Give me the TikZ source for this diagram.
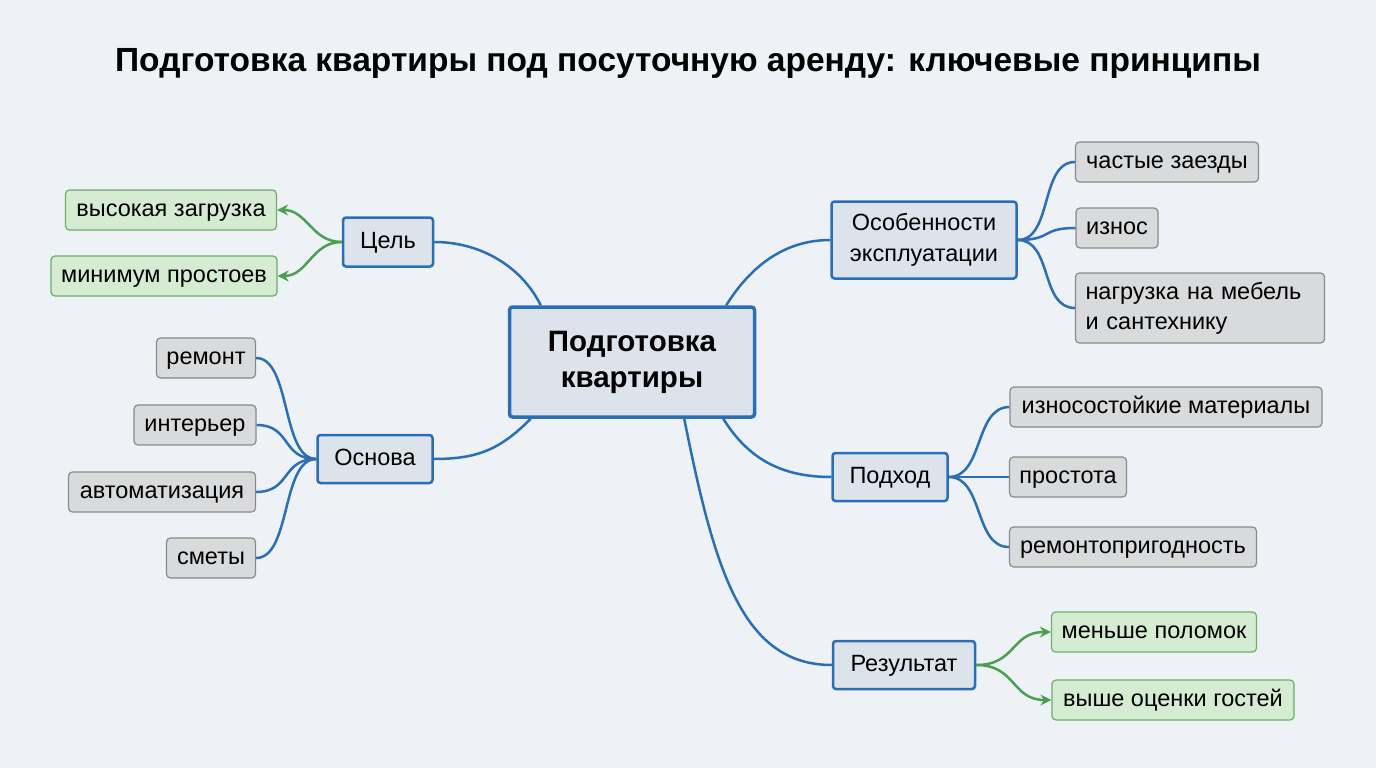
\documentclass[tikz,border=0pt]{standalone}
\usepackage{fontspec}
\setmainfont{Liberation Sans}
\usetikzlibrary{arrows.meta,calc}
\definecolor{bg}{HTML}{EEF2F6}
\definecolor{bl}{HTML}{2A6FB5}
\definecolor{mfill}{HTML}{DCE3EB}
\definecolor{gfill}{HTML}{D9DADC}
\definecolor{gline}{HTML}{8A8A8A}
\definecolor{grfill}{HTML}{D5ECD3}
\definecolor{grline}{HTML}{6AAE6A}
\definecolor{grarr}{HTML}{4AA050}
\begin{document}
\begin{tikzpicture}[x=1pt,y=-1pt,
 one/.style={text height=1.3em,text depth=0em},
 main/.style={draw=bl,line width=2.5pt,fill=mfill,rounded corners=3pt,font=\fontsize{23.5}{30}\selectfont,inner sep=0pt},
 leaf/.style={draw=gline,line width=1.2pt,fill=gfill,rounded corners=4pt,font=\fontsize{23.5}{30}\selectfont,inner sep=0pt,minimum height=40pt},
 good/.style={draw=grline,line width=1.2pt,fill=grfill,rounded corners=4pt,font=\fontsize{23.5}{30}\selectfont,inner sep=0pt,minimum height=40pt,one},
 con/.style={draw=bl,line width=2.5pt},
 gcon/.style={draw=grarr,line width=2.5pt,-{Stealth[length=11pt,width=11pt]}}]
\fill[bg] (0,0) rectangle (1376,768);
\useasboundingbox (0,0) rectangle (1376,768);
\node[font=\bfseries\fontsize{33.5}{36}\selectfont] (title) at (688,63) {Подготовка квартиры под посуточную аренду: ключевые принципы};
\node[main,line width=3.5pt,minimum width=245pt,minimum height=110pt,align=center,font=\bfseries\fontsize{29.5}{36}\selectfont] (c) at (632,362) {Подготовка\\квартиры};
\node[main,one,minimum width=90pt,minimum height=49pt] (cel) at (388,242) {Цель};
\node[good,minimum width=211pt] (g1) at (171,210) {высокая загрузка};
\node[good,minimum width=226pt] (g2) at (164,276) {минимум простоев};
\node[main,one,minimum width=115pt,minimum height=48pt] (osn) at (375,459) {Основа};
\node[leaf,one,minimum width=99pt] (o1) at (206,358) {ремонт};
\node[leaf,one,minimum width=122pt] (o2) at (195,425) {интерьер};
\node[leaf,one,minimum width=187pt] (o3) at (162,492) {автоматизация};
\node[leaf,one,minimum width=89pt] (o4) at (211,558) {сметы};
\node[main,minimum width=185pt,minimum height=77pt,align=center,font=\fontsize{23.5}{31}\selectfont] (os) at (924,240) {Особенности\\эксплуатации};
\node[leaf,one,minimum width=183pt] (e1) at (1167,162) {частые заезды};
\node[leaf,one,minimum width=82pt] (e2) at (1117,228) {износ};
\node[leaf,align=left,minimum width=249pt,minimum height=70pt,text width=229pt] (e3) at (1200,308) {нагрузка на мебель\\и сантехнику};
\node[main,one,minimum width=115pt,minimum height=48pt] (pod) at (890,477) {Подход};
\node[leaf,one,minimum width=312pt] (p1) at (1166,407) {износостойкие материалы};
\node[leaf,one,minimum width=117pt] (p2) at (1068,477) {простота};
\node[leaf,one,minimum width=247pt] (p3) at (1133,547) {ремонтопригодность};
\node[main,one,minimum width=142pt,minimum height=48pt] (res) at (904,665) {Результат};
\node[good,minimum width=205pt] (r1) at (1154,632) {меньше поломок};
\node[good,minimum width=242pt] (r2) at (1173,700) {выше оценки гостей};
% main branches
\draw[con] ($(c.north west)+(33,0)$) .. controls +(-20,-40) and +(45,0) .. (cel.east);
\draw[con] ($(c.south west)+(23,0)$) .. controls +(-30,30) and +(45,0) .. (osn.east);
\draw[con] ($(c.north east)+(-30,0)$) .. controls +(25,-40) and +(-45,0) .. (os.west);
\draw[con] ($(c.south east)+(-33,0)$) .. controls +(25,40) and +(-50,0) .. (pod.west);
\draw[con] ($(c.south east)+(-72,0)$) .. controls +(30,150) and +(-90,0) .. (res.west);
% Цель
\draw[gcon] (cel.west) .. controls +(-30,0) and +(30,0) .. (g1.east);
\draw[gcon] (cel.west) .. controls +(-30,0) and +(30,0) .. (g2.east);
% Основа
\foreach \n in {o1,o2,o3,o4} \draw[con] (osn.west) .. controls +(-35,0) and +(35,0) .. (\n.east);
% Особенности
\foreach \n in {e1,e2,e3} \draw[con] (os.east) .. controls +(35,0) and +(-35,0) .. (\n.west);
% Подход
\foreach \n in {p1,p2,p3} \draw[con] (pod.east) .. controls +(35,0) and +(-35,0) .. (\n.west);
% Результат
\draw[gcon] (res.east) .. controls +(40,0) and +(-40,0) .. (r1.west);
\draw[gcon] (res.east) .. controls +(40,0) and +(-40,0) .. (r2.west);
\end{tikzpicture}
\end{document}
